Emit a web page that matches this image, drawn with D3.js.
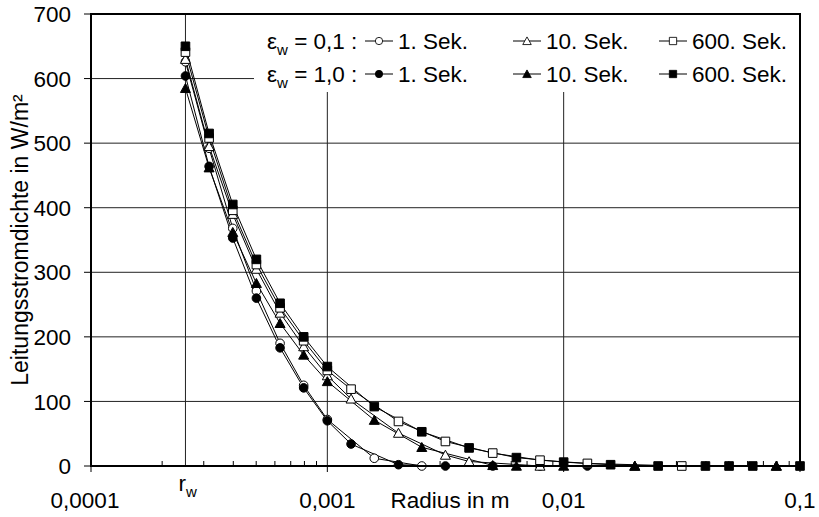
<!DOCTYPE html>
<html>
<head>
<meta charset="utf-8">
<script src="https://cdn.jsdelivr.net/npm/d3@7"></script>
<style>
    body { margin: 0; background: #fff; }
    svg { display: block; }
    text { font-family: "Liberation Sans", Arial, sans-serif; fill: #000; }
</style>
</head>
<body>
<svg id="diagram" width="819" height="517"></svg>
<script>
// radius grid (m)
var radius = [0.000251, 0.000316, 0.000398, 0.000501, 0.000631, 0.000794, 0.001,
    0.00126, 0.00158, 0.002, 0.00251, 0.00316, 0.00398, 0.00501, 0.00631, 0.00794,
    0.01, 0.0126, 0.0158, 0.02, 0.0251, 0.0316, 0.0398, 0.0501, 0.0631, 0.0794, 0.1];

// eps_w = 0,1
var idxE01s1 = [0, 1, 2, 3, 4, 5, 6, 8, 10];
var valE01s1 = [626, 492, 368, 271, 190, 125, 72, 12, 0];
var idxE01s10 = [0, 1, 2, 3, 4, 5, 6, 7, 9, 11, 12, 15, 19, 25];
var valE01s10 = [630, 495, 390, 305, 237, 185, 140, 104, 51, 17, 7, 0, 0, 0];
var idxE01s600 = [0, 1, 2, 3, 4, 5, 6, 7, 9, 11, 13, 15, 17, 21];
var valE01s600 = [641, 508, 396, 312, 245, 194, 148, 119, 69, 38, 20, 9, 4, 0];

// eps_w = 1,0
var idxE10s1 = [0, 1, 2, 3, 4, 5, 6, 7, 9, 11, 13, 15, 17];
var valE10s1 = [604, 464, 353, 260, 183, 121, 70, 34, 2, 0, 0, 0, 0];
var idxE10s10 = [0, 1, 2, 3, 4, 5, 6, 8, 10, 13, 14, 16, 19, 25];
var valE10s10 = [585, 462, 362, 283, 221, 172, 131, 71, 29, 1, 0, 0, 0, 0];
var idxE10s600 = [0, 1, 2, 3, 4, 5, 6, 8, 10, 12, 14, 16, 18, 20, 22, 23, 24, 26];
var valE10s600 = [650, 515, 405, 320, 252, 200, 154, 92, 53, 28, 13, 6, 2, 0, 0, 0, 0, 0];

var xTicks = [0.0001, 0.001, 0.01, 0.1];
var xTickLabels = ["0,0001", "0,001", "0,01", "0,1"];
var yTicks = [0, 100, 200, 300, 400, 500, 600, 700];
var xGrid = [0.000251, 0.001, 0.01];
var timeLabels = ["1. Sek.", "10. Sek.", "600. Sek."];
var epsLabels = ["0,1", "1,0"];

function makeSeries(idx, vals, shape, filled) {
    return {
        shape: shape, filled: filled,
        points: idx.map(function (k, i) { return { r: radius[k], v: vals[i] }; })
    };
}

// drawing order: circles, triangles, squares
var series = [
    makeSeries(idxE01s1, valE01s1, "circle", false),
    makeSeries(idxE10s1, valE10s1, "circle", true),
    makeSeries(idxE01s10, valE01s10, "triangle", false),
    makeSeries(idxE10s10, valE10s10, "triangle", true),
    makeSeries(idxE01s600, valE01s600, "square", false),
    makeSeries(idxE10s600, valE10s600, "square", true)
];

function drawChart() {
    var svg = d3.select("#diagram");
    var pL = 91, pR = 800, pT = 14, pB = 466;
    var fs = "22.5px";

    var x = d3.scaleLog().domain([0.0001, 0.1]).range([pL, pR]);
    var y = d3.scaleLinear().domain([0, 700]).range([pB, pT]);

    function markerPath(shape) {
        if (shape == "circle") return "M-4.3,0a4.3,4.3 0 1,0 8.6,0a4.3,4.3 0 1,0 -8.6,0Z";
        if (shape == "square") return "M-4.3,-4.3h8.6v8.6h-8.6Z";
        return "M0,-4.8L5,4.2L-5,4.2Z";
    }

    // gridlines
    svg.append("g").selectAll("line")
        .data(yTicks.slice(1, -1))
        .enter().append("line")
        .attr("x1", pL).attr("x2", pR)
        .attr("y1", function (d) { return y(d); }).attr("y2", function (d) { return y(d); })
        .attr("stroke", "#222").attr("stroke-width", 1);

    svg.append("g").selectAll("line")
        .data(xGrid)
        .enter().append("line")
        .attr("x1", function (d) { return x(d); }).attr("x2", function (d) { return x(d); })
        .attr("y1", pT).attr("y2", pB)
        .attr("stroke", "#222").attr("stroke-width", 1);

    // y axis ticks + labels
    var yAxis = svg.append("g");
    yAxis.selectAll("line")
        .data(yTicks).enter().append("line")
        .attr("x1", pL - 7).attr("x2", pL)
        .attr("y1", function (d) { return y(d); }).attr("y2", function (d) { return y(d); })
        .attr("stroke", "#000");
    yAxis.selectAll("text")
        .data(yTicks).enter().append("text")
        .attr("x", 71).attr("y", function (d) { return y(d); })
        .attr("dy", "0.36em")
        .attr("text-anchor", "end")
        .style("font-size", fs)
        .text(function (d) { return d; });

    // x axis ticks: decades outward, minor ticks inward
    var minor = [];
    [0.0001, 0.001, 0.01].forEach(function (dec) {
        for (var m = 2; m <= 9; m++) minor.push(dec * m);
    });
    var xAxis = svg.append("g");
    xAxis.selectAll("line.mj")
        .data(xTicks).enter().append("line")
        .attr("class", "mj")
        .attr("x1", function (d) { return x(d); }).attr("x2", function (d) { return x(d); })
        .attr("y1", pB).attr("y2", pB + 6)
        .attr("stroke", "#000");
    xAxis.selectAll("line.mn")
        .data(minor).enter().append("line")
        .attr("class", "mn")
        .attr("x1", function (d) { return x(d); }).attr("x2", function (d) { return x(d); })
        .attr("y1", pB - 5).attr("y2", pB)
        .attr("stroke", "#000");
    xAxis.selectAll("text")
        .data(xTicks).enter().append("text")
        .attr("x", function (d, i) { return i == 0 ? x(d) - 6 : x(d); })
        .attr("y", 508)
        .attr("text-anchor", "middle")
        .style("font-size", fs)
        .text(function (d, i) { return xTickLabels[i]; });

    // r_w label
    var rw = svg.append("text")
        .attr("x", x(radius[0]) - 7).attr("y", 491)
        .style("font-size", fs);
    rw.append("tspan").text("r");
    rw.append("tspan").attr("dy", 6).style("font-size", "15px").text("w");

    // axis titles
    svg.append("text")
        .attr("x", 450).attr("y", 508)
        .attr("text-anchor", "middle")
        .style("font-size", fs)
        .text("Radius in m");

    svg.append("text")
        .attr("transform", "translate(28," + ((pT + pB) / 2) + ") rotate(-90)")
        .attr("text-anchor", "middle")
        .style("font-size", "23px")
        .text("Leitungsstromdichte in W/m²");

    // legend background (covers gridlines)
    svg.append("rect")
        .attr("x", 254).attr("y", pT + 1)
        .attr("width", pR - 254 - 1).attr("height", 92 - pT - 1)
        .attr("fill", "#fff");

    // series lines
    var line = d3.line()
        .x(function (d) { return x(d.r); })
        .y(function (d) { return y(d.v); });

    var plot = svg.append("g");
    series.forEach(function (s) {
        plot.append("path")
            .datum(s.points)
            .attr("d", line)
            .attr("fill", "none")
            .attr("stroke", "#000")
            .attr("stroke-width", 1);
    });
    series.forEach(function (s) {
        plot.selectAll(null)
            .data(s.points)
            .enter().append("path")
            .attr("d", markerPath(s.shape))
            .attr("transform", function (d) { return "translate(" + x(d.r) + "," + y(d.v) + ")"; })
            .attr("fill", s.filled ? "#000" : "#fff")
            .attr("stroke", "#000")
            .attr("stroke-width", 1);
    });

    // frame
    svg.append("rect")
        .attr("x", pL).attr("y", pT)
        .attr("width", pR - pL).attr("height", pB - pT)
        .attr("fill", "none")
        .attr("stroke", "#000").attr("stroke-width", 2);

    // legend
    var legendRowY = [41, 74];
    var sampleX = [379, 527, 673];
    var legend = svg.append("g");
    epsLabels.forEach(function (lab, row) {
        var t = legend.append("text")
            .attr("x", 267).attr("y", legendRowY[row])
            .attr("dy", "0.36em")
            .style("font-size", fs);
        t.append("tspan").text("ε");
        t.append("tspan").attr("dy", 6).style("font-size", "15px").text("w");
        t.append("tspan").attr("dy", -6).text(" = " + lab + " :");

        for (var c = 0; c < 3; c++) {
            var s = series[c * 2 + row];
            var cx = sampleX[c];
            legend.append("line")
                .attr("x1", cx - 14).attr("x2", cx + 14)
                .attr("y1", legendRowY[row]).attr("y2", legendRowY[row])
                .attr("stroke", "#000");
            legend.append("path")
                .attr("d", markerPath(s.shape))
                .attr("transform", "translate(" + cx + "," + legendRowY[row] + ") scale(0.85)")
                .attr("fill", s.filled ? "#000" : "#fff")
                .attr("stroke", "#000");
            legend.append("text")
                .attr("x", cx + 19).attr("y", legendRowY[row])
                .attr("dy", "0.36em")
                .style("font-size", fs)
                .text(timeLabels[c]);
        }
    });
}

drawChart();
</script>
</body>
</html>
